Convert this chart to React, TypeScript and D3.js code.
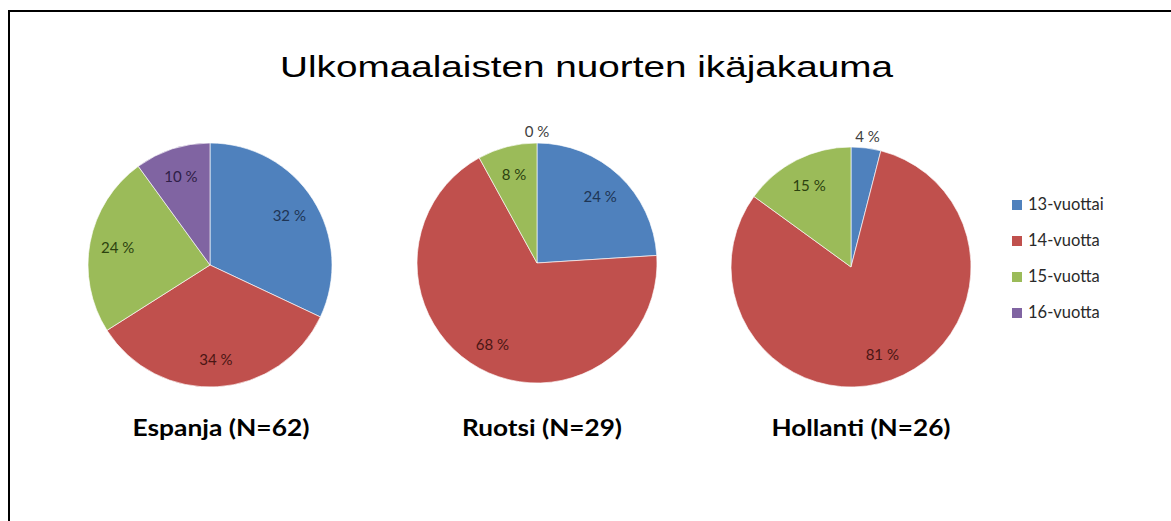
import React from "react";
import * as d3 from "d3";

const categories = ["13-vuottai", "14-vuotta", "15-vuotta", "16-vuotta"];
const countries = ["Espanja (N=62)", "Ruotsi (N=29)", "Hollanti (N=26)"];
const espanja = [32, 34, 24, 10];
const ruotsi = [24, 68, 8, 0];
const hollanti = [4, 81, 15, 0];
const title = "Ulkomaalaisten nuorten ikäjakauma";

const colors = ["#4F81BD", "#C0504D", "#9BBB59", "#8064A2"];
const labelColors = ["#1e3555", "#4a1614", "#2c420f", "#2f2047"];

const pies = [
  { values: espanja, cx: 210, cy: 265, r: 122, name: countries[0], lx: 221, lw: 177, showZero: false },
  { values: ruotsi, cx: 537, cy: 263, r: 120, name: countries[1], lx: 542, lw: 160, showZero: true },
  { values: hollanti, cx: 851, cy: 267, r: 120, name: countries[2], lx: 861, lw: 179, showZero: false },
];

function Pie({ values, cx, cy, r, showZero }: { values: number[]; cx: number; cy: number; r: number; showZero: boolean }) {
  const pie = d3.pie<number>().sort(null).value((d) => d);
  const arcs = pie(values);
  const arc = d3.arc<d3.PieArcDatum<number>>().innerRadius(0).outerRadius(r);
  return (
    <g transform={`translate(${cx},${cy})`}>
      {arcs.map((a, i) =>
        a.value > 0 ? (
          <path key={i} d={arc(a) || ""} fill={colors[i]} stroke="#ffffff" strokeWidth={0.8} strokeOpacity={0.8} />
        ) : null
      )}
      {arcs.map((a, i) => {
        if (a.value === 0 && !showZero) return null;
        const mid = (a.startAngle + a.endAngle) / 2;
        const outside = a.value < 5;
        const d = outside ? r * 1.1 : r * 0.77;
        const x = Math.sin(mid) * d;
        const y = -Math.cos(mid) * d;
        return (
          <text
            key={"l" + i}
            x={x}
            y={y}
            textAnchor="middle"
            dominantBaseline="central"
            fontFamily="Lato, 'Open Sans', sans-serif"
            fontSize={15}
            fill={outside ? "#404040" : labelColors[i]}
          >
            {`${a.value} %`}
          </text>
        );
      })}
    </g>
  );
}

export default function App() {
  const W = 1171;
  const H = 521;
  return (
    <svg
      width={W}
      height={H}
      style={{ position: "absolute", left: 0, top: 0, background: "#fff" }}
    >
      <rect x={0} y={0} width={W} height={H} fill="#fff" />
      <path d={`M9,${H} L9,11 L${W},11`} fill="none" stroke="#000" strokeWidth={2} />
      <text
        x={280}
        y={77}
        fontFamily="'Liberation Sans', Arial, sans-serif"
        fontSize={29}
        textLength={613}
        lengthAdjust="spacingAndGlyphs"
        fill="#000"
      >
        {title}
      </text>
      {pies.map((p, k) => (
        <g key={k}>
          <Pie values={p.values} cx={p.cx} cy={p.cy} r={p.r} showZero={p.showZero} />
          <text
            x={p.lx - p.lw / 2}
            y={436}
            fontFamily="Lato, 'Open Sans', sans-serif"
            fontWeight="bold"
            fontSize={23.5}
            textLength={p.lw}
            lengthAdjust="spacingAndGlyphs"
            fill="#000"
          >
            {p.name}
          </text>
        </g>
      ))}
      {categories.map((c, i) => (
        <g key={c}>
          <rect x={1012} y={200 + i * 36} width={10} height={10} fill={colors[i]} />
          <text
            x={1028}
            y={210 + i * 36}
            fontFamily="Lato, 'Open Sans', sans-serif"
            fontSize={16.5}
            fill="#2a2a2a"
          >
            {c}
          </text>
        </g>
      ))}
    </svg>
  );
}
